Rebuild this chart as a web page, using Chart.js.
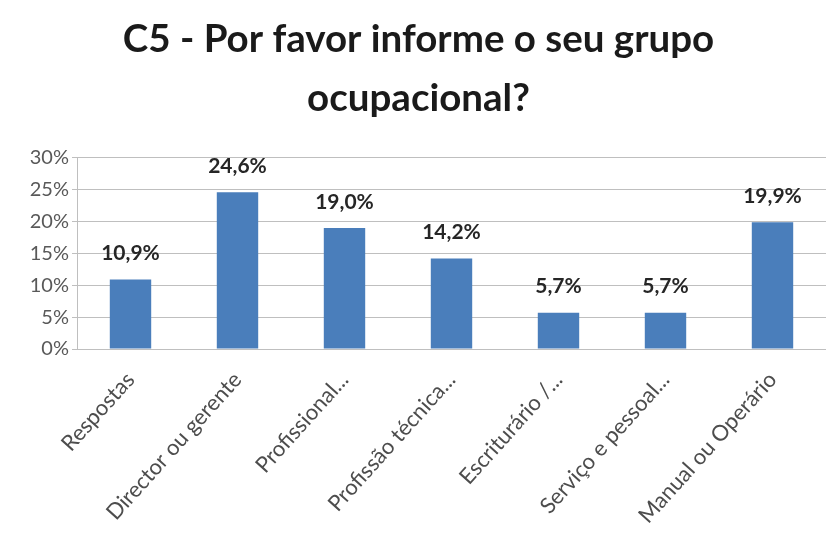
<!DOCTYPE html>
<html>
<head>
<meta charset="utf-8">
<script src="https://cdn.jsdelivr.net/npm/chart.js@4/dist/chart.umd.min.js"></script>
<style>
  html, body { margin: 0; padding: 0; background: #fff; }
  #wrap { width: 826px; height: 547px; overflow: hidden; }
</style>
</head>
<body>
<div id="wrap"><canvas id="chart" width="826" height="547"></canvas></div>
<script>
const categories = [
  'Respostas',
  'Director ou gerente',
  'Profissional...',
  'Profissão técnica...',
  'Escriturário /...',
  'Serviço e pessoal...',
  'Manual ou Operário',
];
const shares = [10.9, 24.6, 19.0, 14.2, 5.7, 5.7, 19.9];
const yTicks = [0, 5, 10, 15, 20, 25, 30];

const FONT = 'Lato, "Open Sans", sans-serif';
const pct = (v) => `${v.toFixed(1).replace('.', ',')}%`;

// writes the value over each bar
const valueLabels = {
  id: 'valueLabels',
  afterDatasetsDraw(chart) {
    const { ctx } = chart;
    const meta = chart.getDatasetMeta(0);
    ctx.save();
    ctx.font = `bold 21px ${FONT}`;
    ctx.fillStyle = '#262626';
    ctx.textAlign = 'center';
    ctx.textBaseline = 'middle';
    meta.data.forEach((bar, i) => {
      ctx.fillText(pct(shares[i]), bar.x, bar.y - 26);
    });
    ctx.restore();
  },
};

new Chart(document.getElementById('chart'), {
  type: 'bar',
  data: {
    labels: categories,
    datasets: [
      {
        data: shares,
        backgroundColor: '#4a7ebb',
        barPercentage: 0.387,
        categoryPercentage: 1,
      },
    ],
  },
  options: {
    responsive: false,
    animation: false,
    // the last category runs a little past the right edge
    layout: { padding: { left: 0, right: -11, top: 0, bottom: 0 } },
    plugins: {
      legend: { display: false },
      tooltip: { enabled: false },
      title: {
        display: true,
        text: ['C5 - Por favor informe o seu grupo', 'ocupacional?'],
        color: '#1a1a1a',
        font: { family: FONT, size: 38.5, weight: 'bold', lineHeight: 1.53 },
        padding: { top: 10, bottom: 30 },
      },
    },
    scales: {
      x: {
        grid: { display: false },
        border: { color: '#bfbfbf' },
        ticks: {
          color: '#4d4d4d',
          font: { family: FONT, size: 22 },
          minRotation: 48,
          maxRotation: 48,
          padding: 10,
        },
        afterFit: (scale) => { scale.height = 198; },
      },
      y: {
        min: 0,
        max: 30,
        afterBuildTicks: (scale) => { scale.ticks = yTicks.map((v) => ({ value: v })); },
        grid: { color: '#bfbfbf', drawTicks: true, tickLength: 5 },
        border: { display: true, color: '#bfbfbf' },
        ticks: {
          color: '#595959',
          font: { family: FONT, size: 20 },
          padding: 3,
          callback: (v) => `${v}%`,
        },
        afterFit: (scale) => { scale.width = 77; },
      },
    },
  },
  plugins: [valueLabels],
});
</script>
</body>
</html>
